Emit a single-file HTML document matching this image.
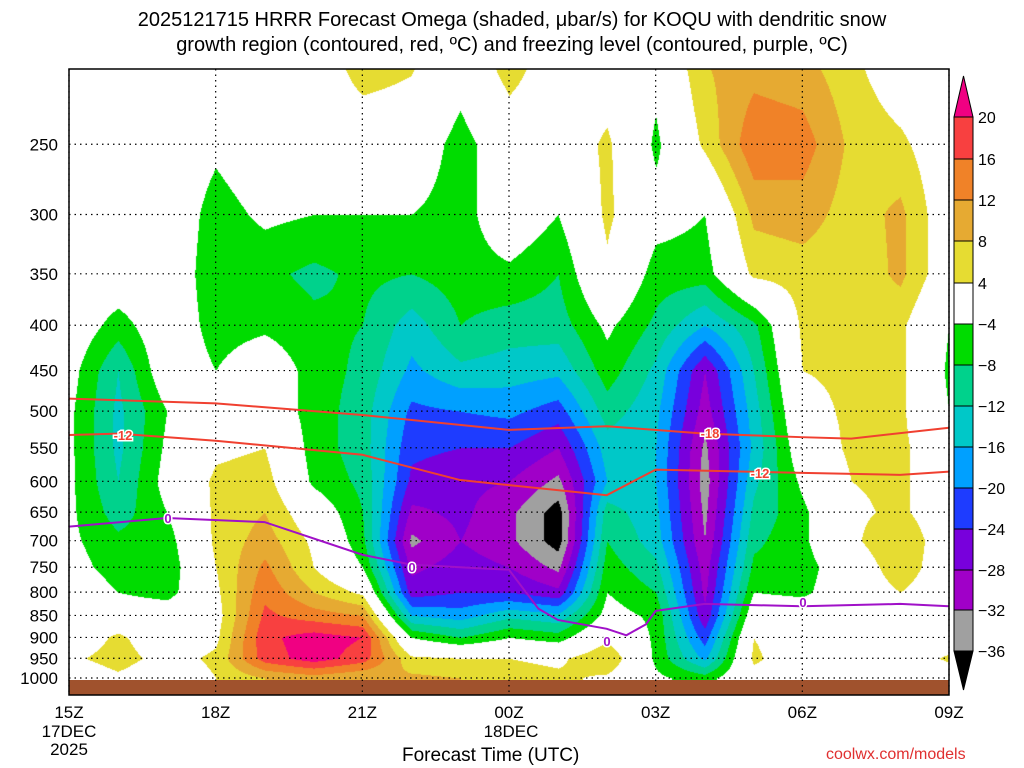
<!DOCTYPE html>
<html><head><meta charset="utf-8"><style>
body{margin:0;background:#fff;width:1024px;height:768px;overflow:hidden;position:relative;font-family:"Liberation Sans",sans-serif}
.t{position:absolute;white-space:nowrap}
</style></head><body>
<div class="t" style="left:0;width:1024px;text-align:center;top:8px;font-size:20px;line-height:25px;color:#000">2025121715 HRRR Forecast Omega (shaded, μbar/s) for KOQU with dendritic snow<br>growth region (contoured, red, ºC) and freezing level (contoured, purple, ºC)</div>
<canvas id="cv" width="880" height="626" style="position:absolute;left:69px;top:69px"></canvas>
<svg id="sv" width="1024" height="768" style="position:absolute;left:0;top:0"></svg>
<div class="t" style="left:402px;top:745px;font-size:19px">Forecast Time (UTC)</div>
<div class="t" style="left:826px;top:746px;font-size:16px;color:#e03030">coolwx.com/models</div>
<script>
const levels=[200,250,300,350,400,450,500,550,600,650,700,750,800,850,900,950,1000];
const hours=[0,1,2,3,4,5,6,7,8,9,10,11,12,13,14,15,16,17,18];
const omega=[
[0,0,0,0,0,-2,-3,-3,-3,-3,-3,-2,0,0,0,3,0],
[0,0,0,0,-6,-12,-13,-13,-12,-10,-7,-6,-4,0,5,6,3],
[0,0,0,0,0,0,-4,-3,-2,-4,-6,-7,-6,0,0,2,0],
[0,-3,-6,-7,-6,-4,0,3,5,5,5,4,3,2,3,5,4],
[0,0,-3,-7,-5,0,0,4,6,8,10,13,15,17,19,18,8],
[0,0,-4,-9,-7,-6,-6,-6,-5,0,3,4,8,14,22,22,10],
[7,0,-4,-7,-8,-9,-10,-10,-9,-8,-7,-4,3,12,20,18,8],
[5,0,-4,-8,-14,-17,-21,-23,-25,-29,-33,-29,-26,-16,-4,5,9],
[-1,-6,-6,-6,-8,-13,-20,-24,-27,-27,-28,-26,-24,-18,-8,4,8],
[7,0,0,-5,-10,-14,-19,-24,-28,-31,-31,-28,-24,-13,-4,4,6],
[0,0,-4,-8,-10,-15,-22,-28,-33,-38,-38,-33,-27,-15,-6,3,5],
[0,5,5,3,-3,-6,-10,-14,-16,-10,-8,-6,-4,-2,3,8,3],
[-2,-5,-2,-6,-9,-13,-15,-16,-16,-15,-14,-11,-8,-5,-5,-5,-3],
[8,5,-4,-6,-16,-28,-30,-33,-34,-33,-32,-30,-29,-27,-22,-17,-6],
[10,15,9,5,-9,-12,-14,-15,-13,-11,-9,-7,-4,0,4,5,2],
[9,14,10,6,5,4,2,0,-3,-5,-5,-6,-5,0,0,0,0],
[5,7,6,5,5,5,5,5,4,3,3,0,0,0,0,0,0],
[0,5,9,9,5,5,5,5,5,5,8,7,4,0,0,0,0],
[0,0,0,0,-4,-5,-4,0,0,0,0,0,0,0,0,5,0]];
const bounds=[20,16,12,8,4,-4,-8,-12,-16,-20,-24,-28,-32,-36];
const colors=["#f00082","#f84040","#f08228","#e6aa32","#e6dc32","#ffffff","#00dc00","#00d28c","#00c8c8","#00a0ff","#1e3cff","#7800dc","#a000c8","#a0a0a0","#000000"];
const tempM18H=[0,3,6,9,11,13,15,16,18];const tempM18P=[484,490,505,525,520,530,535,537,522];
const tempM12H=[0,1,3,6,8,11,12,15,17,18];const tempM12P=[532,530,540,560,598,622,582,587,590,585];
const frzH=[0,2,4,6,7,8,9,9.6,10,11,11.4,11.8,12,13,15,17,18];const frzP=[675,660,667,726,745,750,755,835,860,880,895,870,840,825,830,825,830];
const X0=69,YB=678,YS=385;
const xOf=h=>X0+h*(880/18);
const yOf=p=>YB-YS*Math.log(1000/p);
function colorOf(v){for(let i=0;i<bounds.length;i++){if(v>bounds[i])return colors[i];}return colors[14];}
function hex(c){return [parseInt(c.substr(1,2),16),parseInt(c.substr(3,2),16),parseInt(c.substr(5,2),16)];}
const cv=document.getElementById('cv'),ctx=cv.getContext('2d');
const img=ctx.createImageData(880,626);
const ly=levels.map(yOf);
for(let py=0;py<626;py++){
 const y=py+69;let j=0;while(j<levels.length-2&&ly[j+1]<y)j++;
 let fy=(y-ly[j])/(ly[j+1]-ly[j]);fy=Math.max(0,Math.min(1,fy));
 for(let px=0;px<880;px++){
  const h=px/(880/18);let i=Math.min(17,Math.floor(h));const fx=h-i;
  const v=(omega[i][j]*(1-fx)+omega[i+1][j]*fx)*(1-fy)+(omega[i][j+1]*(1-fx)+omega[i+1][j+1]*fx)*fy;
  const c=hex(colorOf(v));const k=(py*880+px)*4;
  img.data[k]=c[0];img.data[k+1]=c[1];img.data[k+2]=c[2];img.data[k+3]=255;
 }}
ctx.putImageData(img,0,0);
const sv=document.getElementById('sv');const NS='http://www.w3.org/2000/svg';
function el(t,a,txt){const e=document.createElementNS(NS,t);for(const k in a)e.setAttribute(k,a[k]);if(txt!==undefined)e.textContent=txt;sv.appendChild(e);return e;}
let g=el('rect',{x:69,y:680,width:880,height:15,fill:'#a0522d'});


const ylab=[250,300,350,400,450,500,550,600,650,700,750,800,850,900,950,1000];
ylab.forEach(p=>{const y=yOf(p);
 let l=el('line',{x1:69,x2:949,y1:y,y2:y,stroke:'#000','stroke-dasharray':'1.5,4','stroke-width':1.2});
 
 
 let t=el('text',{x:58,y:y+6,'text-anchor':'end','font-size':17,'font-family':'Liberation Sans'},String(p));
 
 });
const xt=[0,3,6,9,12,15,18];const xtl=['15Z','18Z','21Z','00Z','03Z','06Z','09Z'];
xt.forEach((h,i)=>{const x=xOf(h);
 let l=el('line',{x1:x,x2:x,y1:69,y2:695,stroke:'#000','stroke-dasharray':'1.5,4','stroke-width':1.2});
 
 
 let t=el('text',{x:x,y:718,'text-anchor':'middle','font-size':17,'font-family':'Liberation Sans'},xtl[i]);
 
 });
let d1=el('text',{x:69,y:737,'text-anchor':'middle','font-size':17,'font-family':'Liberation Sans'},'17DEC');

let d2=el('text',{x:69,y:755,'text-anchor':'middle','font-size':17,'font-family':'Liberation Sans'},'2025');

let d3=el('text',{x:511,y:737,'text-anchor':'middle','font-size':17,'font-family':'Liberation Sans'},'18DEC');

function line(H,P,col,name){const pts=H.map((h,i)=>xOf(h)+','+yOf(P[i])).join(' ');
 const e=el('polyline',{points:pts,fill:'none',stroke:col,'stroke-width':2});
 }
line(tempM18H,tempM18P,'#f04030','contour-minus18');
line(tempM12H,tempM12P,'#f04030','contour-minus12');
line(frzH,frzP,'#a010c8','freezing-level');
function lab(x,y,t,c,n){const b=el('text',{x:x,y:y+5,'text-anchor':'middle','font-size':13,'font-weight':'bold',fill:c,stroke:'#fff','stroke-width':3,'paint-order':'stroke','font-family':'Liberation Sans'},t);
 }
lab(123,435,'-12','#f04030','label-minus12-a');lab(760,473,'-12','#f04030','label-minus12-b');lab(710,433,'-18','#f04030','label-minus18');
lab(168,518,'0','#a010c8','label-0-a');lab(412,567,'0','#a010c8','label-0-b');lab(607,641,'0','#a010c8','label-0-c');lab(803,602,'0','#a010c8','label-0-d');
let fr=el('rect',{x:69,y:69,width:880,height:626,fill:'none',stroke:'#000','stroke-width':1.5});

const cbY=[117,159,200,241,283,324,365,406,447,488,529,570,610,651];
let tri=el('polygon',{points:'954,117 973,117 963.5,76',fill:colors[0],stroke:'#000'});

for(let i=0;i<13;i++){let r=el('rect',{x:954,y:cbY[i],width:19,height:cbY[i+1]-cbY[i],fill:colors[i+1],stroke:'#000'});
 }
let tri2=el('polygon',{points:'954,651 973,651 963.5,690',fill:'#000',stroke:'#000'});

bounds.forEach((b,i)=>{let t=el('text',{x:978,y:cbY[i]+6,'font-size':16,'font-family':'Liberation Sans'},b<0?'\u2212'+(-b):String(b));
 });
</script>
</body></html>
